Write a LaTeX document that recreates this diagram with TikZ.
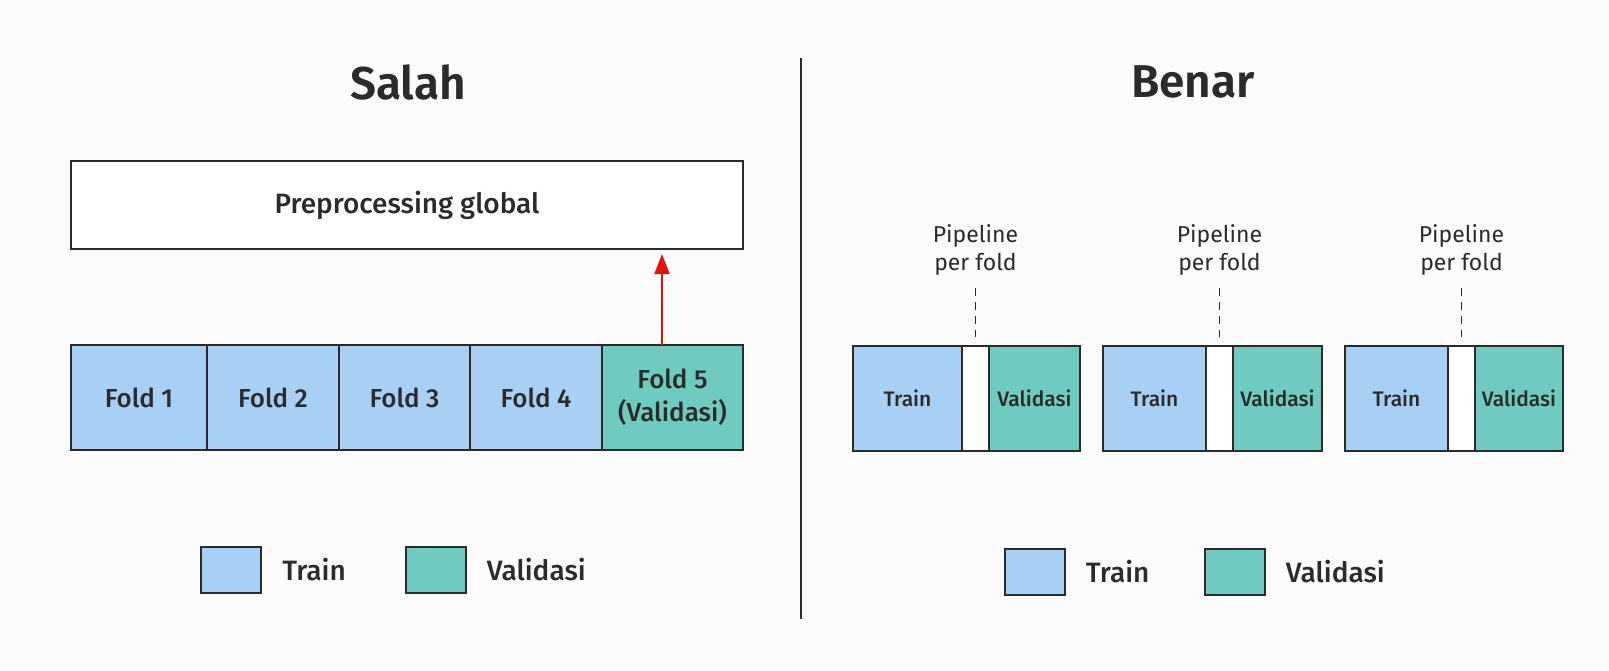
\documentclass[tikz,border=0pt]{standalone}
\usepackage{fontspec}
\setmainfont{Fira Sans}[BoldFont={Fira Sans SemiBold}]
\newfontfamily\medfont{Fira Sans Medium}
\usetikzlibrary{positioning,arrows.meta}
\definecolor{trainblue}{HTML}{A8D0F5}
\definecolor{valteal}{HTML}{6FCBC0}
\definecolor{inkgray}{HTML}{2B2B2B}
\definecolor{paper}{HTML}{FBFBFB}
\definecolor{leakred}{HTML}{E3120B}

\tikzset{
  box/.style={draw=inkgray, line width=1pt, inner sep=0pt, outer sep=0pt, minimum height=52.5pt, text=inkgray},
  trainbox/.style={box, fill=trainblue},
  valbox/.style={box, fill=valteal},
  gapbox/.style={box, fill=white, minimum width=13.5pt},
  foldfont/.style={font=\medfont\fontsize{13}{16.5}\selectfont},
  splitfont/.style={font=\medfont\fontsize{10.5}{13}\selectfont},
  keybox/.style={draw=inkgray, line width=1pt, minimum width=30pt, minimum height=23pt, inner sep=0pt},
  keytext/.style={inner sep=0pt, font=\medfont\fontsize{14}{16}\selectfont, text=inkgray},
  pipetext/.style={align=center, font=\fontsize{11.5}{14}\selectfont, text=inkgray},
  pipedash/.style={draw=inkgray, line width=0.75pt, dash pattern=on 4pt off 3pt},
  headline/.style={font=\bfseries\fontsize{23}{26}\selectfont, text=inkgray},
}

\begin{document}
\begin{tikzpicture}[x=0.5pt,y=-0.5pt]
    \fill[paper] (0,0) rectangle (1609,670);
    \useasboundingbox (0,0) rectangle (1609,670);

    \node[headline] (salah) at (408,82) {Salah};
    \node[headline] (benar) at (1193,82) {Benar};
    \coordinate (divtop) at (801,58);
    \coordinate (divbot) at (801,619);
    \draw[inkgray, line width=1pt] (divtop) -- (divbot);

    \node[box, fill=white, minimum width=336pt, minimum height=44pt, font=\medfont\fontsize{14}{16}\selectfont] (pre) at (407,205) {Preprocessing global};

    \node[trainbox, foldfont, minimum width=68pt] (f1) at (139,397.5) {Fold 1};
    \node[trainbox, foldfont, minimum width=66pt] (f2) at (273,397.5) {Fold 2};
    \node[trainbox, foldfont, minimum width=65.5pt] (f3) at (404.5,397.5) {Fold 3};
    \node[trainbox, foldfont, minimum width=66pt] (f4) at (536,397.5) {Fold 4};
    \node[valbox, foldfont, minimum width=70.5pt, align=center] (f5) at (672.5,397.5) {Fold 5\\(Validasi)};
    \coordinate (leakfoot) at ([xshift=-5.25pt]f5.north);
    \draw[-{Triangle[length=10pt,width=7.5pt]}, leakred, line width=1pt, shorten >=2.5pt] (leakfoot) -- (leakfoot |- pre.south);

    \node[trainbox, splitfont, minimum width=54.5pt] (t1) at (907.5,398.5) {Train};
    \node[gapbox, right=0pt of t1] (g1) {};
    \node[valbox, splitfont, minimum width=45.5pt, right=0pt of g1] (v1) {Validasi};
    \node[pipetext, above=32pt of g1] (p1) {Pipeline\\per fold};
    \draw[pipedash, shorten <=3pt, shorten >=4.5pt] (p1.south) -- (g1.north);

    \node[trainbox, splitfont, minimum width=51.5pt] (t2) at (1154.5,398.5) {Train};
    \node[gapbox, right=0pt of t2] (g2) {};
    \node[valbox, splitfont, minimum width=44.5pt, right=0pt of g2] (v2) {Validasi};
    \node[pipetext, above=32pt of g2] (p2) {Pipeline\\per fold};
    \draw[pipedash, shorten <=3pt, shorten >=4.5pt] (p2.south) -- (g2.north);

    \node[trainbox, splitfont, minimum width=51.5pt] (t3) at (1396.5,398.5) {Train};
    \node[gapbox, right=0pt of t3] (g3) {};
    \node[valbox, splitfont, minimum width=44pt, right=0pt of g3] (v3) {Validasi};
    \node[pipetext, above=32pt of g3] (p3) {Pipeline\\per fold};
    \draw[pipedash, shorten <=3pt, shorten >=4.5pt] (p3.south) -- (g3.north);

    \node[keybox, fill=trainblue] (k1) at (231,570) {};
    \node[keytext, right=10pt of k1] (k1t) {Train};
    \node[keybox, fill=valteal] (k2) at (435.5,570) {};
    \node[keytext, right=10pt of k2] (k2t) {Validasi};

    \node[keybox, fill=trainblue] (k3) at (1034.5,571.5) {};
    \node[keytext, right=10pt of k3] (k3t) {Train};
    \node[keybox, fill=valteal] (k4) at (1234.5,571.5) {};
    \node[keytext, right=10pt of k4] (k4t) {Validasi};
\end{tikzpicture}
\end{document}
